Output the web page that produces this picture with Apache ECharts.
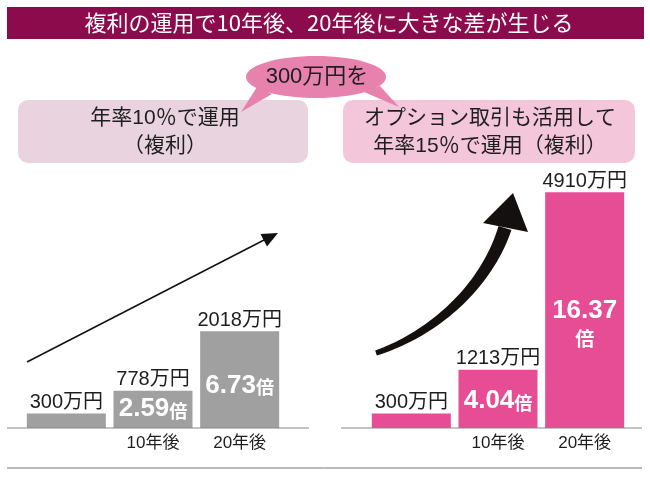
<!DOCTYPE html>
<html><head><meta charset="utf-8">
<script src="https://cdn.jsdelivr.net/npm/echarts@6/dist/echarts.min.js"></script>
<style>html,body{margin:0;padding:0;background:#fff}#c{width:650px;height:478px}</style>
</head><body><div id="c"></div>
<script>
// ---- data ----
const categories = ['', '10年後', '20年後'];
const leftValues = [300, 778, 2018];
const leftRatios = ['', '2.59', '6.73'];
const rightValues = [300, 1213, 4910];
const rightRatios = ['', '4.04', '16.37'];
const titleText = '複利の運用で10年後、20年後に大きな差が生じる';
const bubbleText = '300万円を';
const leftBoxLines = ['年率10％で運用', '（複利）'];
const rightBoxLines = ['オプション取引も活用して', '年率15％で運用（複利）'];
const unitText = '万円';
const ratioUnit = '倍';

// ---- style ----
const FONT = "'Liberation Sans', 'Noto Sans CJK JP', sans-serif";
const CJK = "'Noto Sans CJK JP', sans-serif";
const GREY = '#a0a0a0';
const PINK = '#e64d95';
const DARK = '#1e1e1e';

const chart = echarts.init(document.getElementById('c'), null, {renderer: 'canvas'});

function topLabel() {
  return {
    show: true, position: 'top', distance: 1,
    fontFamily: FONT, fontSize: 20, color: DARK,
    formatter: p => p.value + unitText
  };
}
function innerLabel(ratios, stackLast) {
  return {
    show: true, position: 'inside',
    formatter: p => {
      const r = ratios[p.dataIndex];
      if (!r) return '';
      return stackLast && p.dataIndex === ratios.length - 1
        ? '{n|' + r + '}\n{u2|' + ratioUnit + '}'
        : '{n|' + r + '}{u|' + ratioUnit + '}';
    },
    rich: {
      n: {fontFamily: FONT, fontSize: 26, fontWeight: 'bold', color: '#fff', lineHeight: 30},
      u: {fontFamily: CJK, fontSize: 18, fontWeight: 'bold', color: '#fff', lineHeight: 30, padding: [4, 0, 0, 0]},
      u2: {fontFamily: CJK, fontSize: 19, fontWeight: 'bold', color: '#fff', lineHeight: 26, align: 'center'}
    }
  };
}
function dataWithOffsets(vals, offsets) {
  return vals.map((v, i) => ({value: v, label: {offset: [0, offsets[i]]}}));
}

// curved arrow body (decoration)
function curvedArrow() {
  const P = [[376, 353], [430, 335], [485, 290], [505, 228]];
  const L = [], R = [];
  const N = 40;
  for (let i = 0; i <= N; i++) {
    const t = i / N, mt = 1 - t;
    const x = mt*mt*mt*P[0][0] + 3*mt*mt*t*P[1][0] + 3*mt*t*t*P[2][0] + t*t*t*P[3][0];
    const y = mt*mt*mt*P[0][1] + 3*mt*mt*t*P[1][1] + 3*mt*t*t*P[2][1] + t*t*t*P[3][1];
    const dx = 3*mt*mt*(P[1][0]-P[0][0]) + 6*mt*t*(P[2][0]-P[1][0]) + 3*t*t*(P[3][0]-P[2][0]);
    const dy = 3*mt*mt*(P[1][1]-P[0][1]) + 6*mt*t*(P[2][1]-P[1][1]) + 3*t*t*(P[3][1]-P[2][1]);
    const len = Math.hypot(dx, dy);
    const nx = -dy / len, ny = dx / len;
    const hw = 2.6 + 4.2 * t;
    L.push([x + nx*hw, y + ny*hw]);
    R.push([x - nx*hw, y - ny*hw]);
  }
  return L.concat(R.reverse());
}

const graphics = [
  {type: 'rect', shape: {x: 7, y: 7, width: 637, height: 32}, style: {fill: '#8b0b4c'}, z: 1},
  {type: 'text', style: {text: titleText, x: 329, y: 23, align: 'center', verticalAlign: 'middle',
    fontFamily: CJK, fontSize: 22, fill: '#fff'}, z: 2},
  {type: 'rect', shape: {x: 18, y: 100, width: 290, height: 63, r: 10}, style: {fill: '#e9d3de'}, z: 1},
  {type: 'rect', shape: {x: 343, y: 100, width: 292, height: 63, r: 10}, style: {fill: '#f3c6da'}, z: 1},
  {type: 'polygon', shape: {points: [[257, 87], [272, 94], [241, 112]]}, style: {fill: '#e782af'}, z: 3},
  {type: 'polygon', shape: {points: [[364, 92], [380, 86], [399, 107]]}, style: {fill: '#e782af'}, z: 3},
  {type: 'ellipse', shape: {cx: 316, cy: 77, rx: 70, ry: 21}, style: {fill: '#e782af'}, z: 3},
  {type: 'text', style: {text: bubbleText, x: 317, y: 77, align: 'center', verticalAlign: 'middle',
    fontFamily: FONT, fontSize: 22, fill: DARK}, z: 4},
  {type: 'text', style: {text: leftBoxLines[0], x: 165, y: 118, align: 'center', verticalAlign: 'middle',
    fontFamily: FONT, fontSize: 21, fill: DARK}, z: 2},
  {type: 'text', style: {text: leftBoxLines[1], x: 165, y: 146, align: 'center', verticalAlign: 'middle',
    fontFamily: FONT, fontSize: 21, fill: DARK}, z: 2},
  {type: 'text', style: {text: rightBoxLines[0], x: 490, y: 118, align: 'center', verticalAlign: 'middle',
    fontFamily: FONT, fontSize: 21, fill: DARK}, z: 2},
  {type: 'text', style: {text: rightBoxLines[1], x: 490, y: 146, align: 'center', verticalAlign: 'middle',
    fontFamily: FONT, fontSize: 21, fill: DARK}, z: 2},
  // baselines
  {type: 'line', shape: {x1: 7, y1: 428, x2: 309, y2: 428}, style: {stroke: '#888', lineWidth: 1.2}, z: 5},
  {type: 'line', shape: {x1: 341, y1: 428, x2: 642, y2: 428}, style: {stroke: '#888', lineWidth: 1.2}, z: 5},
  {type: 'line', shape: {x1: 7, y1: 468, x2: 642, y2: 468}, style: {stroke: '#777', lineWidth: 1}, z: 5},
  // straight arrow
  {type: 'line', shape: {x1: 27, y1: 362, x2: 266, y2: 239}, style: {stroke: '#111', lineWidth: 1.5}, z: 5},
  {type: 'polygon', shape: {points: [[278, 233], [267, 246.5], [260.5, 234]]}, style: {fill: '#111'}, z: 5},
  // curved arrow
  {type: 'polygon', shape: {points: curvedArrow()}, style: {fill: '#141010'}, z: 5},
  {type: 'polygon', shape: {points: [[483, 223], [513, 193], [528, 232]]}, style: {fill: '#141010'}, z: 5}
];

const xAxisBase = {
  type: 'category', data: categories,
  axisLine: {show: false}, axisTick: {show: false},
  axisLabel: {fontFamily: FONT, fontSize: 17, color: DARK, margin: 7}
};
const yAxisBase = {type: 'value', min: 0, max: 5000, show: false, splitLine: {show: false}};

chart.setOption({
  animation: false,
  backgroundColor: '#fff',
  grid: [
    {left: 23, width: 260, top: 188, bottom: 50},
    {left: 368, width: 260, top: 188, bottom: 50}
  ],
  xAxis: [Object.assign({gridIndex: 0}, xAxisBase), Object.assign({gridIndex: 1}, xAxisBase)],
  yAxis: [Object.assign({gridIndex: 0}, yAxisBase), Object.assign({gridIndex: 1}, yAxisBase)],
  series: [
    {type: 'bar', xAxisIndex: 0, yAxisIndex: 0, data: leftValues, barWidth: 79,
      itemStyle: {color: GREY}, label: topLabel(), z: 2},
    {type: 'bar', xAxisIndex: 0, yAxisIndex: 0, data: dataWithOffsets(leftValues, [0, 0, 6]), barWidth: 79, barGap: '-100%',
      itemStyle: {color: 'rgba(0,0,0,0)'}, label: innerLabel(leftRatios, false), z: 3},
    {type: 'bar', xAxisIndex: 1, yAxisIndex: 1, data: rightValues, barWidth: 79,
      itemStyle: {color: PINK}, label: topLabel(), z: 2},
    {type: 'bar', xAxisIndex: 1, yAxisIndex: 1, data: dataWithOffsets(rightValues, [0, 2, 14]), barWidth: 79, barGap: '-100%',
      itemStyle: {color: 'rgba(0,0,0,0)'}, label: innerLabel(rightRatios, true), z: 3}
  ],
  graphic: graphics
});
</script>
</body></html>
